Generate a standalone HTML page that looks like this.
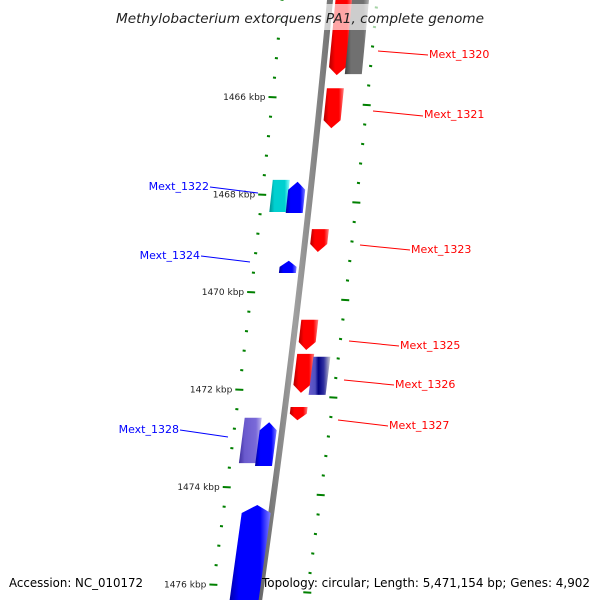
<!DOCTYPE html>
<html><head><meta charset="utf-8"><style>
html,body{margin:0;padding:0;background:#fff;}
svg{display:block;font-family:"DejaVu Sans","Liberation Sans",sans-serif;}
</style></head><body>
<svg id="chart" width="600" height="600" viewBox="0 0 600 600" xmlns="http://www.w3.org/2000/svg">
<defs>
<linearGradient id="gRed" x1="0" x2="1" y1="0" y2="0"><stop offset="0" stop-color="#b00000"/><stop offset="0.25" stop-color="#ff0000"/><stop offset="0.75" stop-color="#ff0000"/><stop offset="1" stop-color="#ff8080"/></linearGradient>
<linearGradient id="gBlue" x1="0" x2="1" y1="0" y2="0"><stop offset="0" stop-color="#0000a0"/><stop offset="0.25" stop-color="#0000ff"/><stop offset="0.75" stop-color="#0000ff"/><stop offset="1" stop-color="#8080ff"/></linearGradient>
<linearGradient id="gGrey" x1="0" x2="1" y1="0" y2="0"><stop offset="0" stop-color="#404040"/><stop offset="0.25" stop-color="#707070"/><stop offset="0.75" stop-color="#707070"/><stop offset="1" stop-color="#b0b0b0"/></linearGradient>
<linearGradient id="gCyan" x1="0" x2="1" y1="0" y2="0"><stop offset="0" stop-color="#009090"/><stop offset="0.25" stop-color="#00d0d0"/><stop offset="0.75" stop-color="#00d0d0"/><stop offset="1" stop-color="#90ffff"/></linearGradient>
<linearGradient id="gPurple" x1="0" x2="1" y1="0" y2="0"><stop offset="0" stop-color="#4030a0"/><stop offset="0.25" stop-color="#6a5acd"/><stop offset="0.75" stop-color="#7a6ad8"/><stop offset="1" stop-color="#c0b8f0"/></linearGradient>
<linearGradient id="gNavy" x1="0" x2="1" y1="0" y2="0"><stop offset="0" stop-color="#6a5acd"/><stop offset="0.3" stop-color="#5050c0"/><stop offset="0.45" stop-color="#000080"/><stop offset="0.7" stop-color="#3030a0"/><stop offset="1" stop-color="#d0d0d0"/></linearGradient>
<linearGradient id="gBack" x1="0" x2="1" y1="0" y2="0"><stop offset="0" stop-color="#606060"/><stop offset="0.5" stop-color="#a0a0a0"/><stop offset="1" stop-color="#707070"/></linearGradient>
</defs>
<g id="ticks"></g>
<g id="backbone"></g>
<g id="genes"></g>
<g id="labels"></g>
<rect x="105" y="4" width="390" height="26" fill="#fff" opacity="0.65"/>
<text x="300" y="23" text-anchor="middle" font-size="13.6" font-style="italic" fill="#222" textLength="368" lengthAdjust="spacingAndGlyphs">Methylobacterium extorquens PA1, complete genome</text>
<text x="9" y="587" font-size="12" fill="#000" textLength="134" lengthAdjust="spacingAndGlyphs">Accession: NC_010172</text>
<text x="262" y="587" font-size="12" fill="#000" textLength="328" lengthAdjust="spacingAndGlyphs">Topology: circular; Length: 5,471,154 bp; Genes: 4,902</text>
</svg>
<script>
const geneNames=["g1320","grey1","g1321","cyan1","g1322","g1323","g1324","g1325","g1326","navy1","g1327","purple1","g1328","blue-big"];
const geneStarts=[1463.90,1463.90,1465.82,1467.70,1467.74,1468.71,1469.36,1470.57,1471.27,1471.33,1472.36,1472.58,1472.67,1474.37];
const geneEnds=[1465.55,1465.53,1466.64,1468.36,1468.38,1469.18,1469.61,1471.19,1472.07,1472.11,1472.63,1473.51,1473.57,1476.50];
const geneStrands=[1,0,1,0,-1,1,-1,1,1,0,1,0,-1,-1];
const geneTracks=[1,2,1,-2,-1,1,-1,1,1,2,1,-2,-1,-1.5];
const geneColors=["gRed","gGrey","gRed","gCyan","gBlue","gRed","gBlue","gRed","gRed","gNavy","gRed","gPurple","gBlue","gBlue"];
const tickKbp=[];for(let k=14640;k<=14770;k+=4)tickKbp.push(k/10);
const majorKbp=[1466,1468,1470,1472,1474,1476];
const labelTexts=["Mext_1320","Mext_1321","Mext_1322","Mext_1323","Mext_1324","Mext_1325","Mext_1326","Mext_1327","Mext_1328"];

const NS="http://www.w3.org/2000/svg";
function yOf(k){return 97+(k-1466)*48.75;}
function bx(y){return 330-0.094*y-0.00004*y*y;}
function mk(t,a,p){const e=document.createElementNS(NS,t);for(const k in a)e.setAttribute(k,a[k]);p.appendChild(e);return e;}
const gT=document.getElementById('ticks'),gB=document.getElementById('backbone'),gG=document.getElementById('genes'),gL=document.getElementById('labels');

let pts=[];for(let y=-5;y<=605;y+=10)pts.push([bx(y),y]);
const bb=mk('polygon',{points:pts.map(p=>(p[0]-3)+','+p[1]).concat(pts.slice().reverse().map(p=>(p[0]+3)+','+p[1])).join(' '),fill:'url(#gBack)'},gB);



tickKbp.forEach(k=>{
  const major=majorKbp.some(m=>Math.abs(m-k)<1e-6);
  const y=yOf(k);
  const xl=bx(y)-48, hl=major?4:1.5;
  const t=mk('line',{x1:xl-hl,y1:y,x2:xl+hl,y2:y+0.4,stroke:'#008000','stroke-width':2},gT);
  
  
  const y2=yOf(k+0.16);
  const xr=bx(y2)+47;
  const t2=mk('line',{x1:xr-hl,y1:y2,x2:xr+hl,y2:y2+0.4,stroke:'#008000','stroke-width':2},gT);
  
  
  if(major){
    const lb=mk('text',{x:xl-7,y:y+3,'font-size':9,'text-anchor':'end',fill:'#222'},gT);
    lb.textContent=k+' kbp';
    
    
  }
});

geneNames.forEach((n,i)=>{
  const y0=yOf(geneStarts[i]),y1=yOf(geneEnds[i]);
  const w=geneTracks[i]===-1.5?29:17;
  const off=geneTracks[i]===-1.5?-15:geneTracks[i]*16.5-Math.sign(geneTracks[i])*2.5;
  const c0=bx(y0)+off,c1=bx(y1)+off,h=w/2,a=Math.min(8,(y1-y0)/2);
  let p;
  if(geneStrands[i]===1){
    const ya=y1-a,ca=bx(ya)+off;
    p=[[c0-h,y0],[c0+h,y0],[ca+h,ya],[c1,y1],[ca-h,ya]];
  }else if(geneStrands[i]===-1){
    const ya=y0+a,ca=bx(ya)+off;
    p=[[c0,y0],[ca+h,ya],[c1+h,y1],[c1-h,y1],[ca-h,ya]];
  }else{
    p=[[c0-h,y0],[c0+h,y0],[c1+h,y1],[c1-h,y1]];
  }
  const g=mk('polygon',{points:p.map(q=>q[0].toFixed(1)+','+q[1].toFixed(1)).join(' '),fill:'url(#'+geneColors[i]+')'},gG);
  
  
});

const labelLayout=[[378,51,428,55,429,54,1],[373,111,423,116,424,114,1],[210,187,258,193,209,186,-1],[360,245,410,250,411,249,1],[201,256,250,262,200,255,-1],[349,341,399,346,400,345,1],[344,380,394,385,395,384,1],[338,420,388,426,389,425,1],[180,430,228,437,179,429,-1]];
labelTexts.forEach((t,i)=>{
  const L=labelLayout[i],col=L[6]===1?'#ff0000':'#0000ff';
  const ln=mk('line',{x1:L[0],y1:L[1],x2:L[2],y2:L[3],stroke:col,'stroke-width':1},gL);
  
  
  const tx=mk('text',{x:L[4],y:L[5]+4,'font-size':11,fill:col,'text-anchor':L[6]===1?'start':'end'},gL);
  tx.textContent=t;
  
  
});
</script>
</body></html>
